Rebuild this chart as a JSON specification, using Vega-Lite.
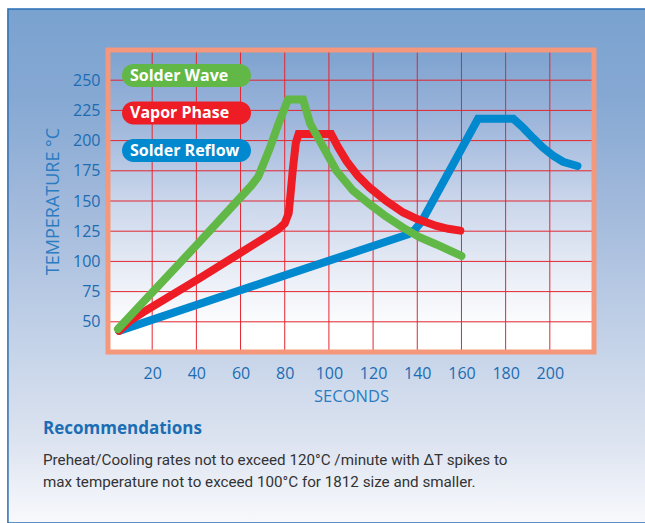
{
  "$schema": "https://vega.github.io/schema/vega-lite/v6.json",
  "width": 486,
  "height": 302,
  "autosize": {"type": "none"},
  "padding": {"left": 108, "top": 50, "right": 51, "bottom": 171},
  "background": "#FFFFFF",
  "datasets": {
    "profiles": [
      {"series": "Solder Reflow", "seconds": 5, "temp": 42.5},
      {"series": "Solder Reflow", "seconds": 77.7, "temp": 87},
      {"series": "Solder Reflow", "seconds": 136, "temp": 122.5},
      {"series": "Solder Reflow", "seconds": 139, "temp": 126.5},
      {"series": "Solder Reflow", "seconds": 142, "temp": 133},
      {"series": "Solder Reflow", "seconds": 167.5, "temp": 218},
      {"series": "Solder Reflow", "seconds": 183.5, "temp": 218},
      {"series": "Solder Reflow", "seconds": 188, "temp": 210.5},
      {"series": "Solder Reflow", "seconds": 192.5, "temp": 202},
      {"series": "Solder Reflow", "seconds": 197, "temp": 194},
      {"series": "Solder Reflow", "seconds": 201.5, "temp": 187.5},
      {"series": "Solder Reflow", "seconds": 206, "temp": 182.5},
      {"series": "Solder Reflow", "seconds": 212.5, "temp": 179},
      {"series": "Vapor Phase", "seconds": 5, "temp": 42.5},
      {"series": "Vapor Phase", "seconds": 10, "temp": 51},
      {"series": "Vapor Phase", "seconds": 16, "temp": 58},
      {"series": "Vapor Phase", "seconds": 41, "temp": 85.5},
      {"series": "Vapor Phase", "seconds": 77, "temp": 126.5},
      {"series": "Vapor Phase", "seconds": 80, "temp": 131.5},
      {"series": "Vapor Phase", "seconds": 81.8, "temp": 140},
      {"series": "Vapor Phase", "seconds": 82.6, "temp": 155},
      {"series": "Vapor Phase", "seconds": 83.6, "temp": 175},
      {"series": "Vapor Phase", "seconds": 85, "temp": 198},
      {"series": "Vapor Phase", "seconds": 86.3, "temp": 205.5},
      {"series": "Vapor Phase", "seconds": 101, "temp": 205.5},
      {"series": "Vapor Phase", "seconds": 104, "temp": 195},
      {"series": "Vapor Phase", "seconds": 108, "temp": 183},
      {"series": "Vapor Phase", "seconds": 113, "temp": 171},
      {"series": "Vapor Phase", "seconds": 118.5, "temp": 161},
      {"series": "Vapor Phase", "seconds": 126, "temp": 150},
      {"series": "Vapor Phase", "seconds": 133.6, "temp": 140.5},
      {"series": "Vapor Phase", "seconds": 140, "temp": 135},
      {"series": "Vapor Phase", "seconds": 148.7, "temp": 129.3},
      {"series": "Vapor Phase", "seconds": 154, "temp": 127},
      {"series": "Vapor Phase", "seconds": 159.5, "temp": 125.5},
      {"series": "Solder Wave", "seconds": 4.5, "temp": 44},
      {"series": "Solder Wave", "seconds": 41.4, "temp": 116},
      {"series": "Solder Wave", "seconds": 65, "temp": 163},
      {"series": "Solder Wave", "seconds": 68, "temp": 170},
      {"series": "Solder Wave", "seconds": 73.1, "temp": 193},
      {"series": "Solder Wave", "seconds": 77, "temp": 213},
      {"series": "Solder Wave", "seconds": 81.5, "temp": 234},
      {"series": "Solder Wave", "seconds": 88.3, "temp": 234},
      {"series": "Solder Wave", "seconds": 91.5, "temp": 214},
      {"series": "Solder Wave", "seconds": 95.8, "temp": 200},
      {"series": "Solder Wave", "seconds": 103.4, "temp": 175},
      {"series": "Solder Wave", "seconds": 110.9, "temp": 158.5},
      {"series": "Solder Wave", "seconds": 118.5, "temp": 147.3},
      {"series": "Solder Wave", "seconds": 126, "temp": 137},
      {"series": "Solder Wave", "seconds": 133.6, "temp": 128},
      {"series": "Solder Wave", "seconds": 141, "temp": 120},
      {"series": "Solder Wave", "seconds": 148.7, "temp": 114},
      {"series": "Solder Wave", "seconds": 160, "temp": 104.5}
    ],
    "gridX": [{"v": 20}, {"v": 40}, {"v": 60}, {"v": 80}, {"v": 100}, {"v": 120}, {"v": 140}, {"v": 160}, {"v": 180}, {"v": 200}],
    "gridY": [{"v": 50}, {"v": 75}, {"v": 100}, {"v": 125}, {"v": 150}, {"v": 175}, {"v": 200}, {"v": 225}, {"v": 250}],
    "panel": [{"name": "panel"}]
  },
  "title": {
    "text": "Recommendations",
    "subtitle": [
      "Preheat/Cooling rates not to exceed 120°C /minute with ΔT spikes to",
      "max temperature not to exceed 100°C for 1812 size and smaller."
    ],
    "orient": "bottom",
    "anchor": "start",
    "frame": "group",
    "dx": -65,
    "offset": -102.5,
    "font": "Open Sans",
    "fontSize": 17,
    "fontWeight": "bold",
    "color": "#1B6DB4",
    "subtitleFont": "Roboto",
    "subtitleFontSize": 15.2,
    "subtitleColor": "#333333",
    "subtitleLineHeight": 22.6,
    "subtitlePadding": 14.5
  },
  "layer": [
    {
      "data": {"name": "panel"},
      "mark": {
        "type": "rect",
        "stroke": "#2A6DB3",
        "strokeWidth": 1.5,
        "fill": {
          "gradient": "linear", "x1": 0, "y1": 0, "x2": 0, "y2": 1,
          "stops": [
            {"offset": 0, "color": "#7AA2D0"},
            {"offset": 0.18, "color": "#86A9D3"},
            {"offset": 0.37, "color": "#A0B8DB"},
            {"offset": 0.665, "color": "#C6D4E9"},
            {"offset": 0.84, "color": "#DCE3F0"},
            {"offset": 1, "color": "#F8F9FC"}
          ]
        }
      },
      "encoding": {
        "x": {"datum": -45.3, "type": "quantitative", "axis": {"title": "SECONDS", "zindex": 1, "values": [20, 40, 60, 80, 100, 120, 140, 160, 180, 200]}},
        "x2": {"datum": 260},
        "y": {"datum": 308.9, "type": "quantitative", "axis": {"title": "TEMPERATURE °C", "zindex": 1, "values": [50, 75, 100, 125, 150, 175, 200, 225, 250]}},
        "y2": {"datum": -116.5}
      }
    },
    {
      "data": {"name": "panel"},
      "mark": {
        "type": "rect",
        "fill": {
          "gradient": "linear", "x1": 0, "y1": 0, "x2": 0, "y2": 1,
          "stops": [
            {"offset": 0, "color": "#7DA3CF"},
            {"offset": 0.2, "color": "#98B2D9"},
            {"offset": 0.5, "color": "#CAD6EB"},
            {"offset": 0.8, "color": "#F0F3F9"},
            {"offset": 0.93, "color": "#FFFFFF"},
            {"offset": 1, "color": "#FFFFFF"}
          ]
        }
      },
      "encoding": {
        "x": {"datum": 0, "type": "quantitative", "axis": {"title": "SECONDS", "zindex": 1, "values": [20, 40, 60, 80, 100, 120, 140, 160, 180, 200]}},
        "x2": {"datum": 220},
        "y": {"datum": 25, "type": "quantitative", "axis": {"title": "TEMPERATURE °C", "zindex": 1, "values": [50, 75, 100, 125, 150, 175, 200, 225, 250]}},
        "y2": {"datum": 275}
      }
    },
    {
      "data": {"name": "gridX"},
      "mark": {"type": "rule", "color": "#E42630", "strokeWidth": 1},
      "encoding": {"x": {"field": "v", "type": "quantitative", "axis": {"title": "SECONDS", "zindex": 1, "values": [20, 40, 60, 80, 100, 120, 140, 160, 180, 200]}}}
    },
    {
      "data": {"name": "gridY"},
      "mark": {"type": "rule", "color": "#E42630", "strokeWidth": 1},
      "encoding": {"y": {"field": "v", "type": "quantitative", "axis": {"title": "TEMPERATURE °C", "zindex": 1, "values": [50, 75, 100, 125, 150, 175, 200, 225, 250]}}}
    },
    {
      "data": {"name": "panel"},
      "mark": {"type": "rect", "fill": null, "stroke": "#F4977B", "strokeWidth": 5},
      "encoding": {
        "x": {"datum": 0, "type": "quantitative", "axis": {"title": "SECONDS", "zindex": 1, "values": [20, 40, 60, 80, 100, 120, 140, 160, 180, 200]}},
        "x2": {"datum": 220},
        "y": {"datum": 25, "type": "quantitative", "axis": {"title": "TEMPERATURE °C", "zindex": 1, "values": [50, 75, 100, 125, 150, 175, 200, 225, 250]}},
        "y2": {"datum": 275}
      }
    },
    {
      "data": {"name": "profiles"},
      "mark": {"type": "line", "strokeWidth": 8, "strokeCap": "round", "strokeJoin": "miter", "interpolate": "linear"},
      "encoding": {
        "x": {
          "field": "seconds", "type": "quantitative",
          "scale": {"domain": [0, 220], "nice": false, "zero": false},
          "axis": {"title": "SECONDS", "zindex": 1, "values": [20, 40, 60, 80, 100, 120, 140, 160, 180, 200]}
        },
        "y": {
          "field": "temp", "type": "quantitative",
          "scale": {"domain": [25, 275], "nice": false, "zero": false},
          "axis": {"title": "TEMPERATURE °C", "zindex": 1, "values": [50, 75, 100, 125, 150, 175, 200, 225, 250]}
        },
        "color": {
          "field": "series", "type": "nominal",
          "scale": {"domain": ["Solder Wave", "Vapor Phase", "Solder Reflow"], "range": ["#62B846", "#EE1C25", "#0089CF"]},
          "legend": {
            "orient": "none", "legendX": 14, "legendY": 14, "title": null, "padding": 0,
            "symbolType": "M-0.822,-0.178L0.822,-0.178A0.178,0.178,0,0,1,0.822,0.178L-0.822,0.178A0.178,0.178,0,0,1,-0.822,-0.178Z",
            "symbolSize": 16641, "symbolStrokeWidth": 0, "symbolOpacity": 1,
            "labelOffset": -121, "labelColor": "#FFFFFF", "labelFont": "Open Sans", "labelFontSize": 16, "labelFontWeight": "bold",
            "rowPadding": 14.5,
            "encode": {
              "symbols": {"update": {"fill": {"scale": "color", "field": "value"}, "fillOpacity": {"value": 1}, "strokeWidth": {"value": 0}, "y": {"value": 11.5}}},
              "labels": {"update": {"y": {"value": 11.5}}}
            }
          }
        },
        "order": {"field": "seconds", "type": "quantitative"}
      }
    }
  ],
  "config": {
    "view": {"stroke": null},
    "axis": {
      "grid": false, "domain": false, "ticks": false, "labelOverlap": false,
      "labelFont": "Open Sans", "labelFontSize": 16, "labelColor": "#1B6CB2",
      "titleFont": "Open Sans", "titleFontSize": 16.5, "titleFontWeight": "normal", "titleColor": "#2A7CC2"
    },
    "axisX": {"labelPadding": 13, "titlePadding": 7},
    "axisY": {"labelPadding": 8, "titlePadding": 10, "titleFontSize": 18}
  }
}
